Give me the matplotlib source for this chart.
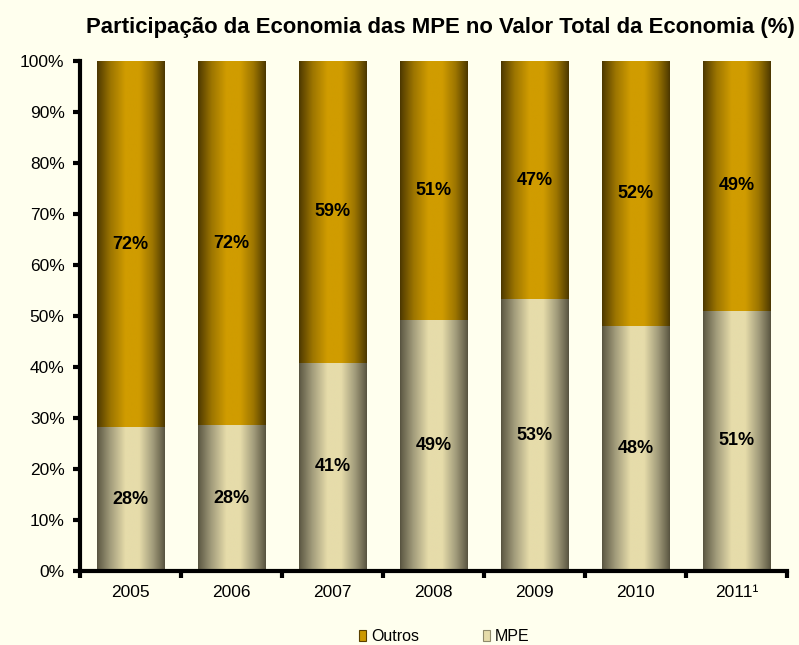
import numpy as np
import matplotlib
matplotlib.use("Agg")
import matplotlib.pyplot as plt
from matplotlib.colors import LinearSegmentedColormap
from matplotlib.patches import Patch

# data
years = ["2005", "2006", "2007", "2008", "2009", "2010", "2011¹"]
mpe = [28.2, 28.6, 40.8, 49.2, 53.3, 48.0, 51.0]
outros = [100 - v for v in mpe]
mpe_labels = ["28%", "28%", "41%", "49%", "53%", "48%", "51%"]
outros_labels = ["72%", "72%", "59%", "51%", "47%", "52%", "49%"]

BG = "#FFFFEE"
NARROW = ["Liberation Sans Narrow", "Liberation Sans", "DejaVu Sans"]
REGULAR = ["Liberation Sans", "DejaVu Sans"]

# cylinder-like shading: dark edges, bright middle
gold = LinearSegmentedColormap.from_list(
    "gold", [(0, "#4a3600"), (0.5, "#9c7500"), (1, "#D09C00")])
beige = LinearSegmentedColormap.from_list(
    "beige", [(0, "#57533f"), (0.5, "#a39d7c"), (1, "#E6DCAA")])


def shade(ax, bars, cmap):
    t = np.linspace(0, 1, 300)
    prof = np.interp(t, [0, 0.03, 0.2, 0.42, 0.62, 0.82, 0.97, 1],
                     [0, 0.1, 0.5, 1, 1, 0.5, 0.1, 0])
    grad = prof[np.newaxis, :]
    for b in bars:
        x0, y0 = b.get_x(), b.get_y()
        w, h = b.get_width(), b.get_height()
        im = ax.imshow(grad, cmap=cmap, vmin=0, vmax=1, aspect="auto",
                       extent=(x0, x0 + w, y0, y0 + h), zorder=2,
                       interpolation="bilinear")
        im.set_clip_path(b)
        b.set_facecolor("none")


fig = plt.figure(figsize=(7.99, 6.45), dpi=100, facecolor=BG)
ax = fig.add_axes([0.100, 0.1147, 0.885, 0.7907], facecolor=BG)

x = np.arange(len(years))
width = 0.67
b1 = ax.bar(x, mpe, width, color="#E6DCAA", linewidth=0, zorder=2)
b2 = ax.bar(x, outros, width, bottom=mpe, color="#CC9900", linewidth=0, zorder=2)
shade(ax, b1, beige)
shade(ax, b2, gold)

for i in range(len(years)):
    ax.text(x[i], mpe[i] / 2, mpe_labels[i], ha="center", va="center",
            fontsize=13, fontweight="bold", family=NARROW, zorder=3)
    ax.text(x[i], mpe[i] + outros[i] / 2, outros_labels[i], ha="center",
            va="center", fontsize=13, fontweight="bold", family=NARROW, zorder=3)

ax.set_xlim(-0.5, len(years) - 0.5)
ax.set_ylim(0, 100)
ax.set_yticks(np.arange(0, 101, 10))
ax.set_yticklabels([f"{v}%" for v in range(0, 101, 10)], family=REGULAR, fontsize=12.5)
ax.set_xticks(x)
ax.set_xticklabels(years, family=REGULAR, fontsize=12.5)
ax.set_xticks(np.arange(-0.5, len(years), 1.0), minor=True)
ax.tick_params(axis="x", which="major", length=0, pad=10)
ax.tick_params(axis="x", which="minor", length=5, width=3, direction="out")
ax.tick_params(axis="y", length=5, width=3, direction="out", pad=6)

for s in ["top", "right"]:
    ax.spines[s].set_visible(False)
for s in ["left", "bottom"]:
    ax.spines[s].set_linewidth(3)

fig.text(0.551, 0.958, "Participação da Economia das MPE no Valor Total da Economia (%)",
         ha="center", va="center", fontsize=15.9, fontweight="bold", family=NARROW)

handles = [Patch(facecolor="#CC9900", edgecolor="#5a4000", linewidth=0.8),
           Patch(facecolor="#E6DCAA", edgecolor="#8f8a6c", linewidth=0.8)]
fig.legend(handles, ["Outros", "MPE"], loc="center", bbox_to_anchor=(0.556, 0.013),
           ncol=2, frameon=False, handlelength=0.45, handleheight=0.7,
           handletextpad=0.3, columnspacing=4.0,
           prop={"family": NARROW, "size": 11.5})

fig.savefig("out.png", dpi=100, facecolor=BG)
